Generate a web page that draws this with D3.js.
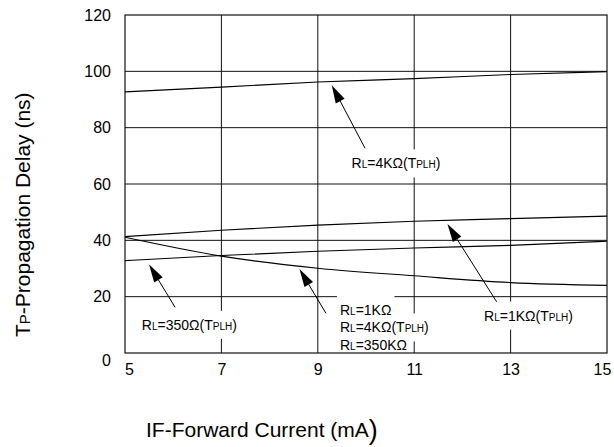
<!DOCTYPE html>
<html>
<head>
<meta charset="utf-8">
<script src="https://cdn.jsdelivr.net/npm/d3@7"></script>
<style>
  body { margin: 0; background: #fff; }
  svg { font-family: "Liberation Sans", Arial, sans-serif; }
</style>
</head>
<body>
<svg id="chart"></svg>
<script>
// forward current (mA) where values were read
var currents = [5, 7, 9, 11, 13, 15];

// propagation delay (ns) per curve
var rl4kPlh = [92.7, 94.4, 96.2, 97.4, 98.9, 99.9];
var rl1kPlh = [41.3, 43.6, 45.4, 46.8, 47.7, 48.6];
var rl350Plh = [32.8, 34.6, 36.1, 37.3, 38.2, 39.7];
var rlPhl = [41.1, 34.4, 30.1, 27.4, 25.0, 24.0];

var xTicks = [5, 7, 9, 11, 13, 15];
var yTicks = [0, 20, 40, 60, 80, 100, 120];

// annotations: [text, isSub] pieces per line, arrow tip / tail in data units
var notes = [
  { x: 9.70, y: [67.5], lines: [[["R", 0], ["L", 1], ["=4KΩ(T", 0], ["PLH", 1], [")", 0]]],
    tip: [9.29, 95.1], tail: [9.98, 72.7] },
  { x: 5.35, y: [10.2], lines: [[["R", 0], ["L", 1], ["=350Ω(T", 0], ["PLH", 1], [")", 0]]],
    tip: [5.50, 31.4], tail: [6.04, 16.2] },
  { x: 9.46, y: [15.5, 9.3, 3.2], lines: [
      [["R", 0], ["L", 1], ["=1KΩ", 0]],
      [["R", 0], ["L", 1], ["=4KΩ(T", 0], ["PLH", 1], [")", 0]],
      [["R", 0], ["L", 1], ["=350KΩ", 0]]],
    tip: [8.62, 29.8], tail: [9.17, 14.1] },
  { x: 12.45, y: [13.5], lines: [[["R", 0], ["L", 1], ["=1KΩ(T", 0], ["PLH", 1], [")", 0]]],
    tip: [11.69, 45.8], tail: [12.71, 18.2] }
];

var W = 614, H = 447;
var margin = {top: 15, right: 7, bottom: 94, left: 125};
var width = W - margin.left - margin.right,
    height = H - margin.top - margin.bottom;

var svg = d3.select("#chart").attr("width", W).attr("height", H);
var g = svg.append("g")
    .attr("transform", "translate(" + margin.left + "," + margin.top + ")");

var x = d3.scaleLinear().domain([5, 15]).range([0, width]);
var y = d3.scaleLinear().domain([0, 120]).range([height, 0]);

// grid
g.selectAll(".vgrid").data(xTicks.slice(1, -1)).enter().append("line")
    .attr("x1", d => x(d)).attr("x2", d => x(d))
    .attr("y1", 0).attr("y2", height)
    .attr("stroke", "#111").attr("stroke-width", 1);
g.selectAll(".hgrid").data(yTicks.slice(1, -1)).enter().append("line")
    .attr("x1", 0).attr("x2", width)
    .attr("y1", d => y(d)).attr("y2", d => y(d))
    .attr("stroke", "#111").attr("stroke-width", 1);

// curves
var line = d3.line()
    .x((d, i) => x(currents[i]))
    .y(d => y(d))
    .curve(d3.curveMonotoneX);

[rl4kPlh, rl1kPlh, rl350Plh, rlPhl].forEach(function(s) {
  g.append("path").datum(s)
    .attr("d", line)
    .attr("fill", "none")
    .attr("stroke", "#000")
    .attr("stroke-width", 1.1);
});

// axes tick labels
var xAxis = d3.axisBottom(x).tickValues(xTicks).tickSize(0).tickPadding(11);
var yAxis = d3.axisLeft(y).tickValues(yTicks).tickSize(0).tickPadding(14);

g.append("g").attr("transform", "translate(0," + height + ")").call(xAxis)
  .call(a => a.select(".domain").remove())
  .selectAll("text").attr("font-size", 16).attr("font-family", "Liberation Sans, Arial").attr("fill", "#000")
  .attr("dx", d => d === 5 ? 4 : d === 15 ? -5 : 0);
g.append("g").call(yAxis)
  .call(a => a.select(".domain").remove())
  .selectAll("text").attr("font-size", 16).attr("font-family", "Liberation Sans, Arial").attr("fill", "#000")
  .attr("dy", d => d === 0 ? "0.75em" : "0.32em");

// annotations
function writeLine(sel, parts, big, small) {
  parts.forEach(function(p) {
    sel.append("tspan").attr("font-size", p[1] ? small : big).text(p[0]);
  });
}

notes.forEach(function(n) {
  var grp = g.append("g");
  var bg = grp.append("g");
  n.lines.forEach(function(parts, i) {
    var t = grp.append("text")
        .attr("x", x(n.x)).attr("y", y(n.y[i]))
        .attr("dy", "0.35em").attr("fill", "#000");
    writeLine(t, parts, 14, 10);
    var b = t.node().getBBox();
    bg.append("rect")
        .attr("x", b.x - 3).attr("y", b.y - 6)
        .attr("width", b.width + 6).attr("height", b.height + 12)
        .attr("fill", "#fff");
  });

  // arrow
  var x1 = x(n.tail[0]), y1 = y(n.tail[1]), x2 = x(n.tip[0]), y2 = y(n.tip[1]);
  var ang = Math.atan2(y2 - y1, x2 - x1);
  var hl = 18, hw = 5;
  var bx = x2 - hl * Math.cos(ang), by = y2 - hl * Math.sin(ang);
  g.append("line")
      .attr("x1", x1).attr("y1", y1).attr("x2", bx).attr("y2", by)
      .attr("stroke", "#000").attr("stroke-width", 1);
  var pts = [
    [x2, y2],
    [bx + hw * Math.sin(ang), by - hw * Math.cos(ang)],
    [bx - hw * Math.sin(ang), by + hw * Math.cos(ang)]
  ];
  g.append("path")
      .attr("d", "M" + pts.map(p => p.join(",")).join("L") + "Z")
      .attr("fill", "#000");
});

// frame on top so label backgrounds don't hide it
g.append("rect")
    .attr("width", width).attr("height", height)
    .attr("fill", "none").attr("stroke", "#111").attr("stroke-width", 1.2);

// axis titles
var yt = svg.append("text")
    .attr("transform", "translate(30,337) rotate(-90)")
    .attr("fill", "#000");
writeLine(yt, [["T", 0], ["P", 1], ["-Propagation Delay (ns)", 0]], 21, 15);

var xt = svg.append("text")
    .attr("x", 146).attr("y", 437)
    .attr("fill", "#000");
writeLine(xt, [["IF-Forward Current (mA", 0]], 21, 21);
xt.append("tspan").attr("font-size", 27).attr("dy", 2).text(")");
</script>
</body>
</html>
